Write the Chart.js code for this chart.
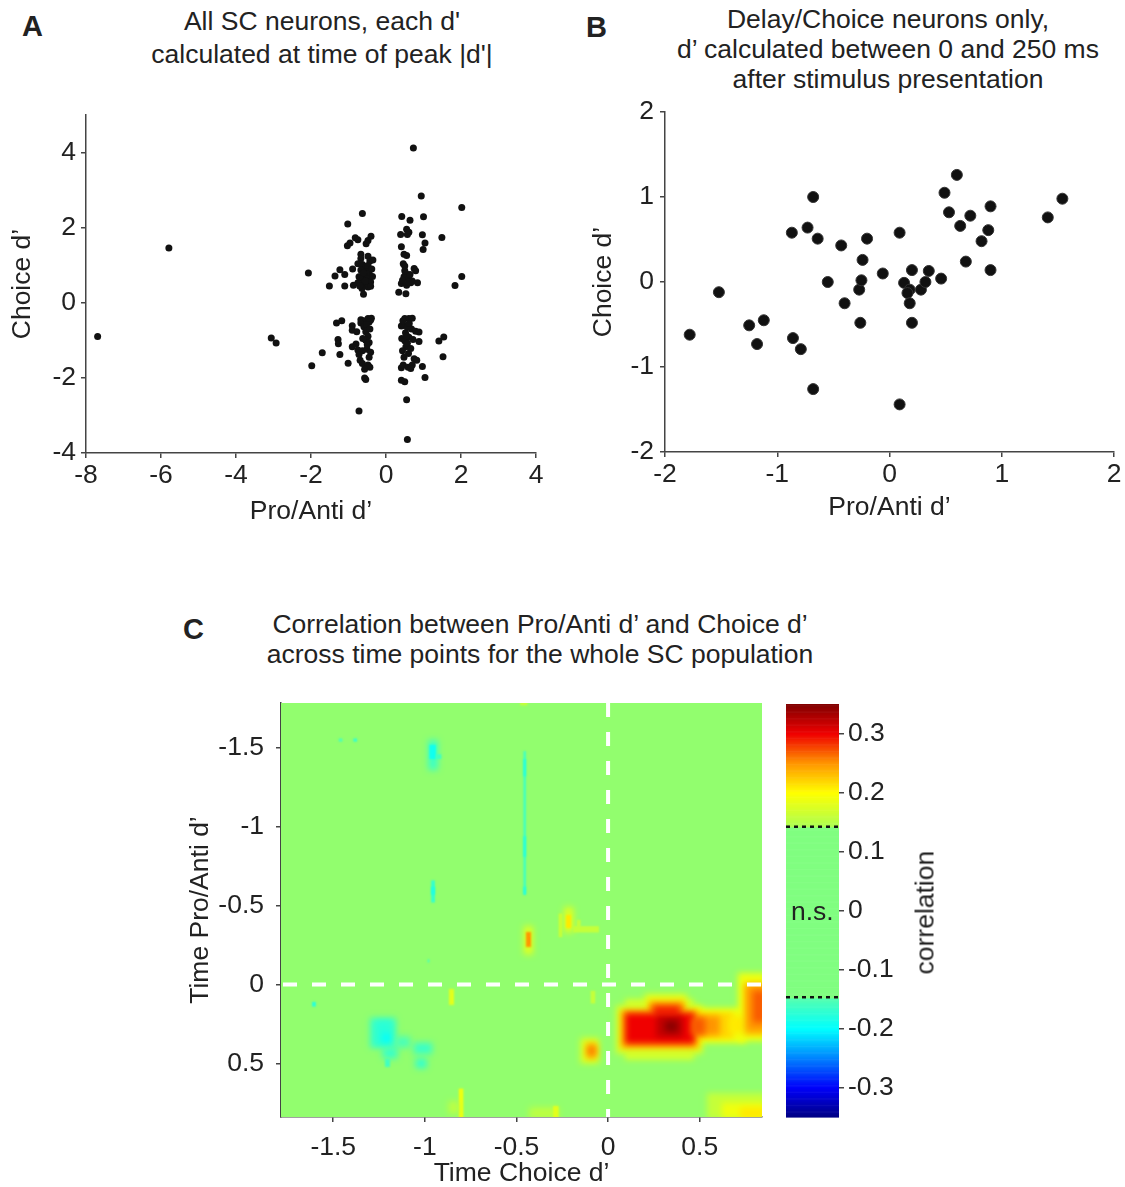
<!DOCTYPE html>
<html>
<head>
<meta charset="utf-8">
<script src="https://cdn.jsdelivr.net/npm/chart.js@4.4.0/dist/chart.umd.min.js"></script>
<style>
  body { margin: 0; background: #fff; }
  #page { position: relative; width: 1125px; height: 1187px; overflow: hidden;
          font-family: "Liberation Sans", Arial, sans-serif; color: #222; background: #fff; }
  .panel { position: absolute; }
  .title { position: absolute; width: 560px; text-align: center; font-size: 26.5px; white-space: nowrap; }
  .letter { position: absolute; font-size: 29px; font-weight: bold; }
  .note { position: absolute; font-size: 26.5px; white-space: nowrap; }
</style>
</head>
<body>
<div id="page">
  <div class="letter" style="left:22px; top:10px;">A</div>
  <div class="title" style="left:42px; top:5px; line-height:33px;">All SC neurons, each d'<br>calculated at time of peak |d'|</div>
  <div class="letter" style="left:586px; top:11px;">B</div>
  <div class="title" style="left:608px; top:4px; line-height:30px;">Delay/Choice neurons only,<br>d’ calculated between 0 and 250 ms<br>after stimulus presentation</div>
  <div class="letter" style="left:183px; top:613px;">C</div>
  <div class="title" style="left:260px; top:609px; line-height:30px;">Correlation between Pro/Anti d’ and Choice d’<br>across time points for the whole SC population</div>

  <div class="panel" style="left:0px; top:100px;"><canvas id="chartA" width="560" height="440"></canvas></div>
  <div class="panel" style="left:565px; top:95px;"><canvas id="chartB" width="560" height="445"></canvas></div>
  <div class="panel" style="left:170px; top:690px;"><canvas id="chartC" width="600" height="497"></canvas></div>
  <div class="panel" style="left:770px; top:690px;"><canvas id="chartBar" width="200" height="497"></canvas></div>

  <div class="note" style="left:791px; top:896px;">n.s.</div>
  <div class="note" style="left:865px; top:899px; width:120px; text-align:center; transform:rotate(-90deg);">correlation</div>
</div>

<script>
// ---- panel A: every SC neuron, [Pro/Anti d', Choice d'] at peak |d'|
const allNeuronsD = [
  [-7.69, -0.90], [-5.79, 1.46], [-3.06, -0.94], [-2.93, -1.07],
  // upper left group
  [-0.63, 2.38], [-1.02, 2.10], [-0.82, 1.73], [-0.75, 1.68], [-0.40, 1.77], [-0.48, 1.66],
  [-0.53, 1.57], [-1.03, 1.52], [-0.96, 1.59], [-0.67, 1.29], [-0.48, 1.24], [-0.67, 1.18],
  [-0.75, 1.04], [-0.63, 1.02], [-0.43, 1.11], [-0.35, 1.14], [-0.54, 0.96], [-0.50, 0.87],
  [-0.45, 0.78], [-0.67, 0.87], [-0.59, 0.74], [-0.72, 0.69], [-0.51, 0.64], [-0.63, 0.60],
  [-0.41, 0.55], [-0.75, 0.53], [-0.57, 0.47], [-0.48, 0.42], [-0.64, 0.38], [-0.41, 0.44],
  [-0.69, 0.69], [-0.48, 0.99], [-0.60, 0.80], [-0.38, 0.90], [-0.55, 0.58], [-0.70, 0.45],
  [-0.36, 0.70], [-1.23, 0.88], [-1.36, 0.71], [-1.10, 0.75], [-1.51, 0.45], [-1.10, 0.45],
  [-0.87, 0.47], [-0.60, 0.23], [-2.07, 0.79], [-0.89, 0.90],
  // upper right group
  [0.42, 2.30], [0.64, 2.20], [1.00, 2.29], [0.55, 1.96], [0.61, 1.88], [0.57, 1.82],
  [0.39, 1.82], [0.97, 1.81], [1.04, 1.59], [0.99, 1.42], [1.49, 1.74], [2.02, 2.54],
  [0.94, 2.84], [0.73, 4.12], [0.41, 1.49], [0.48, 1.29], [0.55, 1.26], [0.46, 1.04],
  [0.50, 0.98], [0.75, 0.91], [0.79, 0.85], [0.53, 0.78], [0.57, 0.72], [0.48, 0.69],
  [0.61, 0.63], [0.41, 0.51], [0.66, 0.53], [0.55, 0.47], [0.44, 0.60], [0.70, 0.58],
  [0.84, 0.53], [0.64, 0.75], [0.50, 0.85], [0.60, 0.55], [0.34, 0.28], [0.53, 0.24],
  [1.84, 0.46], [2.02, 0.70],
  // lower left group
  [-1.32, -0.54], [-1.18, -0.48], [-0.67, -0.45], [-0.60, -0.48], [-0.48, -0.42], [-0.41, -0.46],
  [-0.39, -0.41], [-0.45, -0.51], [-0.67, -0.54], [-0.90, -0.61], [-0.90, -0.73], [-0.78, -0.77],
  [-0.59, -0.64], [-0.54, -0.77], [-0.48, -0.89], [-0.54, -1.00], [-0.45, -1.06], [-1.28, -0.98],
  [-1.27, -1.09], [-0.90, -1.17], [-0.75, -1.26], [-0.63, -1.28], [-0.51, -1.24], [-0.41, -1.32],
  [-1.70, -1.33], [-1.23, -1.38], [-1.98, -1.68], [-1.01, -1.61], [-0.69, -1.53], [-0.63, -1.62],
  [-0.48, -1.66], [-0.43, -1.72], [-0.57, -1.77], [-0.57, -2.00], [-0.54, -2.04], [-0.72, -2.88],
  [-0.52, -0.58], [-0.43, -0.70], [-0.62, -0.95], [-0.50, -1.12], [-0.72, -1.38], [-0.45, -1.45],
  [-0.80, -1.10],
  // lower right group
  [0.41, -0.62], [0.50, -0.42], [0.61, -0.42], [0.70, -0.41], [0.46, -0.60], [0.57, -0.65],
  [0.68, -0.70], [0.79, -0.76], [0.88, -0.78], [0.42, -0.95], [0.50, -1.01], [0.61, -0.92],
  [0.88, -1.03], [0.53, -1.17], [0.57, -1.08], [0.60, -1.35], [0.75, -1.49], [0.82, -1.53],
  [0.41, -1.73], [0.46, -1.66], [0.59, -1.72], [0.70, -1.66], [0.66, -1.75], [0.97, -1.70],
  [1.04, -1.99], [0.41, -2.06], [0.50, -2.10], [0.55, -2.58], [0.57, -3.64], [1.41, -1.02],
  [1.54, -0.91], [1.52, -1.44], [0.45, -0.48], [0.62, -0.55], [0.52, -0.80], [0.44, -1.28],
  [0.66, -1.22], [0.48, -1.45], [0.55, -0.88], [0.72, -0.98]
];
const aTicksX = [-8, -6, -4, -2, 0, 2, 4];
const aTicksY = [-4, -2, 0, 2, 4];

// ---- panel B: delay/choice neurons, d' over 0-250 ms after stimulus
const delayChoiceD = [
  [-1.78, -0.62], [-1.52, -0.12], [-1.25, -0.51], [-1.12, -0.45], [-1.18, -0.73],
  [-0.86, -0.66], [-0.79, -0.79], [-0.68, -1.26], [-0.87, 0.58], [-0.73, 0.64],
  [-0.68, 1.00], [-0.64, 0.51], [-0.55, 0.00], [-0.43, 0.43], [-0.40, -0.25],
  [-0.27, -0.09], [-0.25, 0.02], [-0.24, 0.26], [-0.20, 0.51], [-0.26, -0.48],
  [-0.06, 0.10], [0.09, 0.58], [0.13, -0.01], [0.18, -0.09], [0.16, -0.13],
  [0.20, 0.14], [0.18, -0.25], [0.20, -0.48], [0.09, -1.44], [0.28, -0.09],
  [0.32, 0.00], [0.35, 0.13], [0.46, 0.04], [0.49, 1.05], [0.53, 0.82],
  [0.60, 1.26], [0.63, 0.66], [0.72, 0.78], [0.68, 0.24], [0.82, 0.48],
  [0.88, 0.61], [0.90, 0.89], [0.90, 0.14], [1.41, 0.76], [1.54, 0.98]
];
const bTicks = [-2, -1, 0, 1, 2];

// ---- panel C: correlation map, time axes in seconds
const timeTicks = [-1.5, -1, -0.5, 0, 0.5];
const timeRange = [-1.785, 0.84];
const nsBounds = [-0.147, 0.142];
// significant patches: [choice from, choice to, pro/anti from, pro/anti to, r], painted in order
const sigPatches = [
  // main positive blob after choice onset
  [0.045, 0.52, 0.13, 0.44, 0.17], [0.09, 0.47, 0.09, 0.48, 0.17], [0.20, 0.43, 0.06, 0.15, 0.18],
  [0.46, 0.75, 0.15, 0.37, 0.19], [0.71, 0.86, -0.07, 0.36, 0.19],
  [0.065, 0.50, 0.16, 0.41, 0.22], [0.22, 0.42, 0.10, 0.18, 0.22], [0.47, 0.68, 0.18, 0.34, 0.22],
  [0.66, 0.74, 0.20, 0.31, 0.21], [0.74, 0.86, -0.01, 0.32, 0.23],
  [0.08, 0.48, 0.17, 0.39, 0.26], [0.23, 0.41, 0.12, 0.19, 0.26], [0.47, 0.61, 0.20, 0.32, 0.25],
  [0.76, 0.86, 0.01, 0.29, 0.25],
  [0.10, 0.47, 0.19, 0.37, 0.30], [0.25, 0.39, 0.14, 0.21, 0.29], [0.45, 0.53, 0.21, 0.32, 0.27],
  [0.79, 0.86, 0.04, 0.24, 0.27],
  [0.26, 0.41, 0.20, 0.33, 0.32], [0.31, 0.38, 0.23, 0.30, 0.345],
  // late bottom right
  [0.54, 0.86, 0.69, 0.85, 0.16], [0.62, 0.86, 0.75, 0.85, 0.19], [0.72, 0.86, 0.78, 0.85, 0.21],
  // bottom left streaks
  [-0.815, -0.79, 0.66, 0.85, 0.19], [-0.87, -0.815, 0.74, 0.82, 0.155],
  [-0.43, -0.27, 0.78, 0.85, 0.155], [-0.30, -0.27, 0.77, 0.85, 0.18],
  [-0.48, -0.44, -1.80, -1.77, 0.16],
  // just before choice, below zero line
  [-0.15, -0.05, 0.34, 0.50, 0.18], [-0.12, -0.06, 0.37, 0.47, 0.23], [-0.11, -0.07, 0.39, 0.45, 0.26],
  [-0.095, -0.07, 0.04, 0.12, 0.16], [-0.87, -0.84, 0.03, 0.13, 0.18],
  // above zero line
  [-0.46, -0.41, -0.37, -0.19, 0.18], [-0.45, -0.42, -0.33, -0.24, 0.25],
  [-0.27, -0.25, -0.45, -0.30, 0.16], [-0.24, -0.19, -0.49, -0.33, 0.18], [-0.23, -0.20, -0.44, -0.36, 0.21],
  [-0.19, -0.05, -0.37, -0.33, 0.16], [-0.17, -0.15, -0.41, -0.36, 0.16],
  // negative spots
  [-0.98, -0.93, -1.55, -1.36, -0.165], [-0.975, -0.94, -1.52, -1.43, -0.19], [-0.94, -0.91, -1.46, -1.43, -0.16],
  [-1.39, -1.37, -1.56, -1.54, -0.17], [-1.47, -1.45, -1.56, -1.54, -0.155],
  [-0.462, -0.448, -1.48, -0.57, -0.16], [-0.462, -0.448, -1.43, -1.32, -0.175],
  [-0.462, -0.448, -0.94, -0.81, -0.175], [-0.462, -0.448, -0.62, -0.57, -0.175],
  [-0.965, -0.945, -0.66, -0.52, -0.17], [-0.965, -0.945, -0.62, -0.57, -0.18],
  [-0.985, -0.975, -0.16, -0.14, -0.155], [-1.615, -1.595, 0.11, 0.14, -0.18],
  [-1.30, -1.16, 0.21, 0.40, -0.16], [-1.27, -1.18, 0.23, 0.38, -0.175], [-1.23, -1.19, 0.31, 0.37, -0.20],
  [-1.23, -1.15, 0.40, 0.47, -0.165], [-1.22, -1.19, 0.47, 0.52, -0.16], [-1.16, -1.08, 0.33, 0.40, -0.155],
  [-1.06, -0.96, 0.37, 0.44, -0.165], [-1.05, -0.99, 0.47, 0.53, -0.17]
];
const barTicks = [-0.3, -0.2, -0.1, 0, 0.1, 0.2, 0.3];
const barRange = [-0.35, 0.35];

// jet-like colour scale with the non-significant band blanked out
const corrStops = [
  [-0.35, [0, 0, 130]], [-0.30, [0, 0, 250]], [-0.25, [0, 130, 255]], [-0.20, [0, 255, 255]],
  [-0.145, [90, 255, 170]], [0.145, [175, 255, 80]], [0.20, [255, 255, 0]],
  [0.25, [255, 150, 0]], [0.30, [240, 0, 0]], [0.35, [128, 0, 0]]
];
const NS_MAP = '#92fe6e';
const NS_BAR = '#80fe80';
const AXIS = '#444';
const FONT = '"Liberation Sans", Arial, sans-serif';
const FSIZE = 26.5;

function corrColor(v) {
  let c = corrStops[corrStops.length - 1][1];
  if (v <= corrStops[0][0]) c = corrStops[0][1];
  for (let i = 1; i < corrStops.length; i++) {
    const [v0, c0] = corrStops[i - 1], [v1, c1] = corrStops[i];
    if (v >= v0 && v <= v1) {
      const t = (v - v0) / (v1 - v0);
      c = c0.map((k, j) => Math.round(k + (c1[j] - k) * t));
      break;
    }
  }
  return `rgb(${c[0]}, ${c[1]}, ${c[2]})`;
}

Chart.defaults.font.family = FONT;
Chart.defaults.font.size = FSIZE;
Chart.defaults.color = '#222';
Chart.defaults.animation = false;

function toXY(pairs) {
  return pairs.map(p => ({x: p[0], y: p[1]}));
}

function axis(opts) {
  return {
    type: 'linear',
    min: opts.min,
    max: opts.max,
    reverse: !!opts.reverse,
    position: opts.position,
    border: {display: true, color: AXIS, width: 1.5},
    grid: {display: true, drawOnChartArea: false, drawTicks: true, tickLength: 5, color: AXIS, lineWidth: 1.5},
    ticks: {padding: opts.pad, callback: v => String(v), font: {size: FSIZE}, color: '#222', maxRotation: 0},
    afterBuildTicks: a => { a.ticks = opts.ticks.map(v => ({value: v})); },
    afterFit: a => {
      if (opts.width !== undefined) a.width = opts.width;
      if (opts.height !== undefined) a.height = opts.height;
      // plot area comes only from layout padding
      a.paddingTop = a.paddingBottom = a.paddingLeft = a.paddingRight = 0;
    },
    title: opts.title ? {
      display: true, text: opts.title, color: '#222',
      font: {size: FSIZE, lineHeight: 1}, padding: opts.titlePad
    } : {display: false}
  };
}

const quiet = {legend: {display: false}, tooltip: {enabled: false}};

// panel A
new Chart(document.getElementById('chartA'), {
  type: 'scatter',
  data: {datasets: [{data: toXY(allNeuronsD), pointRadius: 3.5, backgroundColor: '#111', borderWidth: 0}]},
  options: {
    responsive: false,
    layout: {padding: {left: 0, right: 24, top: 15, bottom: 0}},
    plugins: quiet,
    scales: {
      x: axis({min: -8, max: 4, ticks: aTicksX, pad: 2, height: 87, title: 'Pro/Anti d’', titlePad: {top: 0, bottom: 15}}),
      y: axis({min: -4, max: 5, ticks: aTicksY, pad: 5, width: 86, title: 'Choice d’', titlePad: {top: 9, bottom: 0}})
    }
  }
});

// panel B
new Chart(document.getElementById('chartB'), {
  type: 'scatter',
  data: {datasets: [{data: toXY(delayChoiceD), pointRadius: 5.5, backgroundColor: '#111', borderColor: '#333', borderWidth: 1}]},
  options: {
    responsive: false,
    layout: {padding: {left: 0, right: 11, top: 17, bottom: 0}},
    plugins: quiet,
    scales: {
      x: axis({min: -2, max: 2, ticks: bTicks, pad: 2, height: 88, title: 'Pro/Anti d’', titlePad: {top: 0, bottom: 19}}),
      y: axis({min: -2, max: 2, ticks: bTicks, pad: 6, width: 100, title: 'Choice d’', titlePad: {top: 25, bottom: 0}})
    }
  }
});

// panel C: correlation map painted from the patch list through the time scales
const OFF = 4000;
const corrMap = {
  id: 'corrMap',
  beforeDatasetsDraw(chart) {
    const {ctx, chartArea: a, scales: {x, y}} = chart;
    ctx.save();
    ctx.beginPath();
    ctx.rect(a.left, a.top, a.right - a.left, a.bottom - a.top);
    ctx.clip();
    ctx.fillStyle = NS_MAP;
    ctx.fillRect(a.left, a.top, a.right - a.left, a.bottom - a.top);
    // soft-edged patches: only the blurred shadow of each rectangle lands in the plot
    ctx.shadowOffsetX = OFF;
    sigPatches.forEach(([c0, c1, p0, p1, r]) => {
      const x0 = x.getPixelForValue(c0), x1 = x.getPixelForValue(c1);
      const y0 = y.getPixelForValue(p0), y1 = y.getPixelForValue(p1);
      const w = Math.abs(x1 - x0), h = Math.abs(y1 - y0);
      const col = corrColor(r);
      ctx.shadowColor = col;
      ctx.shadowBlur = (w < 7 || h < 7) ? 2 : 6;
      ctx.fillStyle = col;
      ctx.fillRect(Math.min(x0, x1) - OFF, Math.min(y0, y1), w, h);
    });
    ctx.shadowColor = 'transparent';
    ctx.shadowBlur = 0;
    ctx.shadowOffsetX = 0;
    // dashed markers at time zero
    ctx.strokeStyle = '#fff';
    ctx.lineWidth = 4;
    ctx.setLineDash([14, 15]);
    const zx = x.getPixelForValue(0), zy = y.getPixelForValue(0);
    ctx.beginPath();
    ctx.moveTo(zx, a.top);
    ctx.lineTo(zx, a.bottom);
    ctx.moveTo(a.left + 2, zy);
    ctx.lineTo(a.right, zy);
    ctx.stroke();
    ctx.restore();
  }
};

new Chart(document.getElementById('chartC'), {
  type: 'scatter',
  data: {datasets: []},
  plugins: [corrMap],
  options: {
    responsive: false,
    layout: {padding: {left: 0, right: 8, top: 13, bottom: 0}},
    plugins: quiet,
    scales: {
      x: axis({min: timeRange[0], max: timeRange[1], ticks: timeTicks, pad: 10, height: 70, title: 'Time Choice d’', titlePad: {top: 0, bottom: 0}}),
      y: axis({min: timeRange[0], max: timeRange[1], ticks: timeTicks, reverse: true, pad: 12, width: 111, title: 'Time Pro/Anti d’', titlePad: {top: 17, bottom: 0}})
    }
  }
});

// colour bar
const barFill = {
  id: 'barFill',
  beforeDatasetsDraw(chart) {
    const {ctx, chartArea: a, scales: {y}} = chart;
    const step = 0.002;
    ctx.save();
    for (let v = barRange[0]; v < barRange[1] - 1e-9; v += step) {
      const mid = v + step / 2;
      ctx.fillStyle = (mid > nsBounds[0] && mid < nsBounds[1]) ? NS_BAR : corrColor(mid);
      const yt = y.getPixelForValue(v + step), yb = y.getPixelForValue(v);
      ctx.fillRect(a.left, yt, a.right - a.left, yb - yt + 0.6);
    }
    ctx.strokeStyle = '#111';
    ctx.lineWidth = 2.5;
    ctx.setLineDash([4, 4]);
    nsBounds.forEach(b => {
      const yy = y.getPixelForValue(b);
      ctx.beginPath();
      ctx.moveTo(a.left, yy);
      ctx.lineTo(a.right, yy);
      ctx.stroke();
    });
    ctx.restore();
  }
};

new Chart(document.getElementById('chartBar'), {
  type: 'scatter',
  data: {datasets: []},
  plugins: [barFill],
  options: {
    responsive: false,
    layout: {padding: {left: 16, right: 0, top: 14, bottom: 70}},
    plugins: quiet,
    scales: {
      x: {display: false, min: 0, max: 1},
      y: Object.assign(axis({min: barRange[0], max: barRange[1], ticks: barTicks, pad: 4, width: 131, position: 'right'}),
        {border: {display: false}})
    }
  }
});
</script>
</body>
</html>
